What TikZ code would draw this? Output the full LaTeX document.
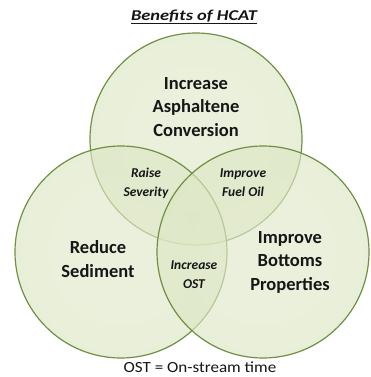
\documentclass[tikz,border=0pt]{standalone}
\usepackage{fontspec}
\setmainfont{Carlito}
\definecolor{rimgreen}{HTML}{6A8A3A}
\definecolor{labelgray}{HTML}{161616}
% soft green disc: pale centre, greener band towards the rim
\pgfdeclareradialshading{vennfill}{\pgfpoint{0bp}{0bp}}{%
  rgb(0bp)=(0.885,0.915,0.80);
  rgb(36bp)=(0.86,0.90,0.76);
  rgb(45bp)=(0.70,0.80,0.48);
  rgb(50bp)=(0.52,0.66,0.28)}
\tikzset{
  venn/.style={circle, minimum size=212pt, inner sep=0pt, shading=vennfill,
    fill opacity=0.65, draw=rimgreen, draw opacity=0.95, line width=1.2pt},
  biglabel/.style={align=center, text=labelgray, inner sep=0pt,
    font=\fontsize{18.5}{23.5}\selectfont\bfseries},
  smalllabel/.style={align=center, text=labelgray, inner sep=0pt,
    font=\fontsize{13.5}{19}\selectfont\bfseries\itshape},
  titlelabel/.style={text=labelgray, inner sep=0pt, anchor=base,
    font=\fontsize{15}{18}\selectfont\bfseries\itshape},
  notelabel/.style={text=labelgray, inner sep=0pt, anchor=base,
    font=\fontsize{15.5}{18}\selectfont}
}
\begin{document}
\begin{tikzpicture}[x=1pt, y=-1pt]
  \useasboundingbox (0,0) rectangle (371,377);
  \fill[white] (0,0) rectangle (371,377);
  % the three benefit circles
  \node[venn] (ctop)   at (196,139) {};
  \node[venn] (cleft)  at (121,252) {};
  \node[venn] (cright) at (263,252) {};
  % title and labels
  \node[titlelabel] (title) at (194,20.5) {\scalebox{1.23}[1]{\underline{Benefits of HCAT}}};
  \node[biglabel] (asph) at (196,107) {Increase\\Asphaltene\\Conversion};
  \node[biglabel] (sed) at (98,259) {Reduce\\Sediment};
  \node[biglabel] (bott) at (290,262) {Improve\\Bottoms\\Properties};
  \node[smalllabel] (sev) at (146,183) {Raise\\Severity};
  \node[smalllabel] (fuel) at (243,183) {Improve\\Fuel Oil};
  \node[smalllabel] (ost) at (194,275) {Increase\\OST};
  \node[notelabel] (note) at (200,372) {\scalebox{1.1}[1]{OST = On-stream time}};
\end{tikzpicture}
\end{document}
